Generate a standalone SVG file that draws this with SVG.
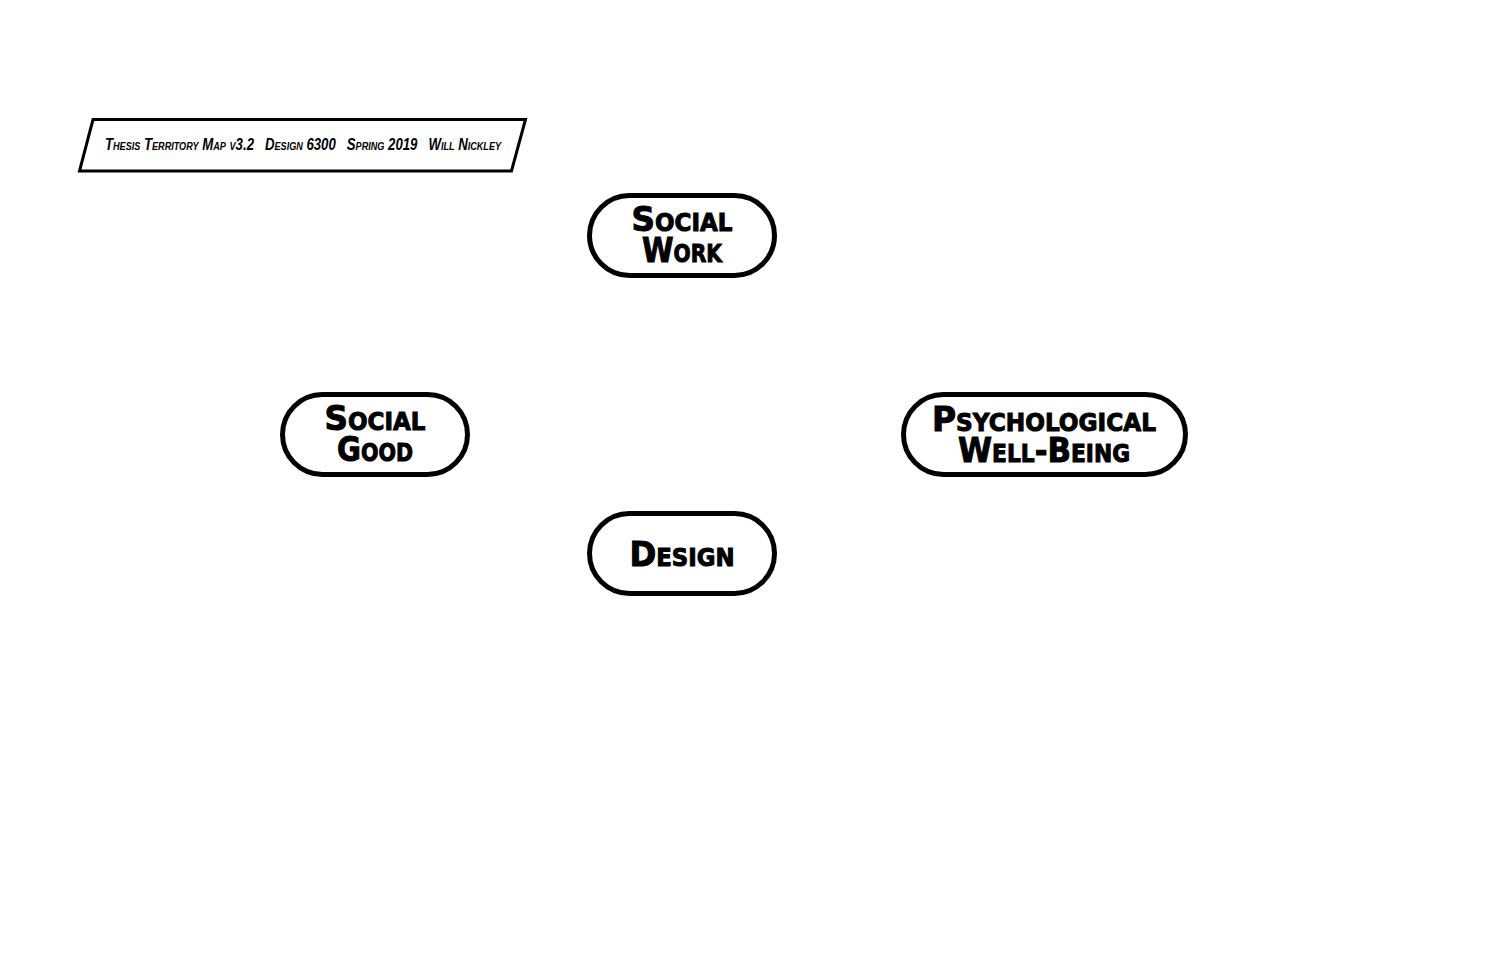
<svg xmlns="http://www.w3.org/2000/svg" width="1500" height="970" viewBox="0 0 1500 970">
<style>
.pill{fill:#fff;stroke:#000;stroke-width:5}
.lbl{font-family:"DejaVu Sans","Liberation Sans",sans-serif;font-weight:bold;font-size:34px;font-variant:small-caps;text-anchor:middle;fill:#000;stroke:#000;stroke-width:1}
.ttl{font-family:"Liberation Sans","DejaVu Sans",sans-serif;font-style:italic;font-weight:bold;font-size:16px;font-variant:small-caps;fill:#000}
</style>
<rect width="1500" height="970" fill="#fff"/>
<g id="title">
<polygon points="93,119.5 525.5,119.5 511.5,171 79.5,171" fill="#fff" stroke="#000" stroke-width="3"/>
<text class="ttl" x="105" y="150" textLength="396" lengthAdjust="spacingAndGlyphs" xml:space="preserve">Thesis Territory Map v3.2   Design 6300   Spring 2019   Will Nickley</text>
</g>
<g id="connectors"></g>
<g id="social-work">
<rect class="pill" x="589.5" y="195.5" width="185" height="80" rx="40"/>
<text class="lbl" x="682" y="231" textLength="101" lengthAdjust="spacingAndGlyphs">Social</text>
<text class="lbl" x="682" y="262" textLength="80" lengthAdjust="spacingAndGlyphs">Work</text>
</g>
<g id="social-good">
<rect class="pill" x="282.5" y="394.5" width="185" height="80" rx="40"/>
<text class="lbl" x="375" y="430" textLength="101" lengthAdjust="spacingAndGlyphs">Social</text>
<text class="lbl" x="375" y="461" textLength="76" lengthAdjust="spacingAndGlyphs">Good</text>
</g>
<g id="psychological-well-being">
<rect class="pill" x="903.5" y="394.5" width="282" height="80" rx="40"/>
<text class="lbl" x="1044" y="431" textLength="224" lengthAdjust="spacingAndGlyphs">Psychological</text>
<text class="lbl" x="1044" y="462" textLength="172" lengthAdjust="spacingAndGlyphs">Well-Being</text>
</g>
<g id="design">
<rect class="pill" x="589.5" y="513.5" width="185" height="80" rx="40"/>
<text class="lbl" x="682" y="566" textLength="105" lengthAdjust="spacingAndGlyphs">Design</text>
</g>
</svg>
